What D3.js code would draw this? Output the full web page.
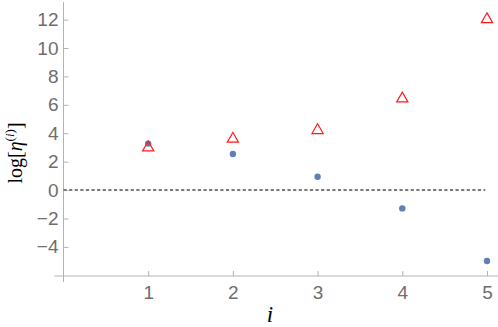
<!DOCTYPE html>
<html>
<head>
<meta charset="utf-8">
<script src="https://cdn.jsdelivr.net/npm/d3@7"></script>
<style>
  body { margin: 0; background: #fff; }
  .tick text { font-family: "Liberation Sans", Arial, sans-serif; }
</style>
</head>
<body>
<div id="chart"></div>
<script>
// values
var iValues = [1, 2, 3, 4, 5];
var blueDots = [3.27, 2.54, 0.94, -1.29, -4.99];
var redTriangles = [3.06, 3.67, 4.28, 6.51, 12.09];
var xTicks = [1, 2, 3, 4, 5];
var yTicks = [-4, -2, 0, 2, 4, 6, 8, 10, 12];

var width = 498, height = 327;
var margin = {t: 4, r: 0, b: 51, l: 63.5};

var svg = d3.select("#chart").append("svg")
  .attr("width", width)
  .attr("height", height);

var x = d3.scaleLinear().domain([0, 5.13]).range([margin.l, width - margin.r]);
var y = d3.scaleLinear().domain([-6.05, 13.1]).range([height - margin.b, margin.t]);

var axisColor = "#b3b3b3", labelColor = "#6e6e6e";

// x axis (ticks pointing up into the plot)
var xAxis = svg.append("g")
  .attr("transform", "translate(0," + y(-6.05) + ")")
  .call(d3.axisBottom(x).tickValues(xTicks).tickSizeInner(-5).tickSizeOuter(0).tickPadding(10)
    .tickFormat(d3.format("d")));
xAxis.select(".domain").remove();
xAxis.selectAll(".tick line").attr("stroke", axisColor);
xAxis.selectAll(".tick text").attr("fill", labelColor).style("font-size", "19px");
svg.append("line")
  .attr("x1", x(0) - 9).attr("x2", width)
  .attr("y1", y(-6.05)).attr("y2", y(-6.05))
  .attr("stroke", axisColor);

// y axis (ticks pointing right)
var yAxis = svg.append("g")
  .attr("transform", "translate(" + x(0) + ",0)")
  .call(d3.axisLeft(y).tickValues(yTicks).tickSizeInner(-5).tickSizeOuter(0).tickPadding(5)
    .tickFormat(function(d) { return d < 0 ? "\u2212" + Math.abs(d) : d; }));
yAxis.select(".domain").remove();
yAxis.selectAll(".tick line").attr("stroke", axisColor);
yAxis.selectAll(".tick text").attr("fill", labelColor).style("font-size", "19px");
svg.append("line")
  .attr("x1", x(0)).attr("x2", x(0))
  .attr("y1", margin.t - 2).attr("y2", y(-6.05) + 6)
  .attr("stroke", axisColor);

// dashed zero line
svg.append("line")
  .attr("x1", x(0)).attr("x2", x(4.98))
  .attr("y1", y(0)).attr("y2", y(0))
  .attr("stroke", "#7a7a7a")
  .attr("stroke-width", 2)
  .attr("stroke-dasharray", "3.2,2.4");

// blue points
svg.selectAll("circle.dot")
  .data(iValues)
  .enter().append("circle")
  .attr("class", "dot")
  .attr("cx", function(d) { return x(d); })
  .attr("cy", function(d, k) { return y(blueDots[k]); })
  .attr("r", 3.2)
  .attr("fill", "#5e81b5");

// red open triangles
var tri = d3.symbol().type(d3.symbolTriangle).size(55);
svg.selectAll("path.tri")
  .data(iValues)
  .enter().append("path")
  .attr("class", "tri")
  .attr("d", tri)
  .attr("transform", function(d, k) { return "translate(" + x(d) + "," + (y(redTriangles[k]) + 1) + ")"; })
  .attr("fill", "none")
  .attr("stroke", "#ff1a1a")
  .attr("stroke-width", 1.2);

// axis labels
svg.append("text")
  .attr("x", 270).attr("y", 322)
  .attr("text-anchor", "middle")
  .style("font-family", "'Liberation Serif', 'Times New Roman', serif")
  .style("font-style", "italic")
  .style("font-size", "23px")
  .text("i");

var ylab = svg.append("text")
  .attr("transform", "translate(22," + 153 + ") rotate(-90)")
  .attr("text-anchor", "middle")
  .style("font-family", "'Liberation Serif', 'Times New Roman', serif")
  .style("font-size", "20px")
  .attr("fill", "#000");
ylab.append("tspan").text("log[");
ylab.append("tspan").style("font-style", "italic").text("\u03b7");
ylab.append("tspan").attr("dy", -8).style("font-size", "13px").text("(");
ylab.append("tspan").style("font-size", "13px").style("font-style", "italic").text("i");
ylab.append("tspan").style("font-size", "13px").text(")");
ylab.append("tspan").attr("dy", 8).text("]");
</script>
</body>
</html>
